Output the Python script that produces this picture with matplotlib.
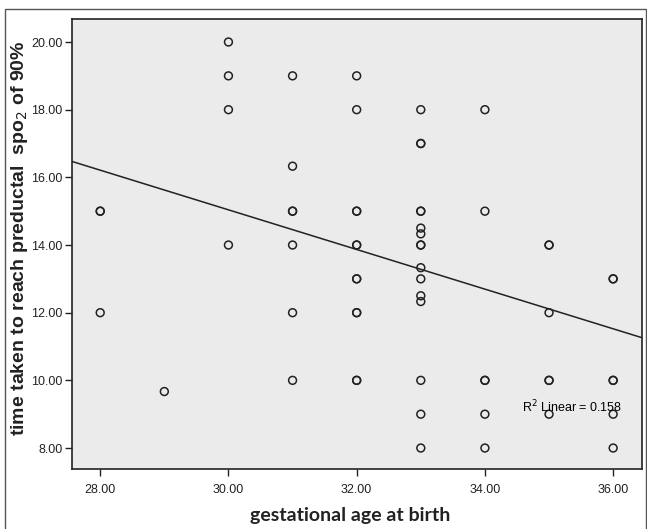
import matplotlib
matplotlib.use("Agg")
import matplotlib.pyplot as plt
from matplotlib.patches import Rectangle
import numpy as np

# gestational age (weeks) and time to reach preductal SpO2 of 90%
# (repeated pairs = overlapping patients, drawn darker in the reference)
gest_age = [28, 28, 28,
            29,
            30, 30, 30, 30,
            31, 31, 31, 31, 31, 31, 31,
            32, 32, 32, 32, 32, 32, 32, 32, 32, 32, 32, 32,
            33, 33, 33, 33, 33, 33, 33, 33, 33, 33, 33, 33, 33, 33, 33, 33,
            34, 34, 34, 34, 34, 34,
            35, 35, 35, 35, 35, 35,
            36, 36, 36, 36, 36, 36]
time_taken = [15, 15, 12,
              9.67,
              20, 19, 18, 14,
              19, 16.33, 15, 15, 14, 12, 10,
              19, 18, 15, 15, 14, 14, 13, 13, 12, 12, 10, 10,
              18, 17, 17, 15, 15, 14.5, 14.33, 14, 14, 13.33, 13, 12.5, 12.33, 10, 9, 8,
              18, 15, 10, 10, 9, 8,
              14, 14, 12, 10, 10, 9,
              13, 13, 10, 10, 9, 8]

fit_slope = -0.586
fit_intercept = 32.62
r2_text = "R$^2$ Linear = 0.158"

x_ticks = [28, 30, 32, 34, 36]
y_ticks = [8, 10, 12, 14, 16, 18, 20]

W, H = 647, 529
fig = plt.figure(figsize=(W / 100, H / 100), dpi=100)
ax = fig.add_axes([72 / W, 1 - 469 / H, (642 - 72) / W, (469 - 19) / H])
ax.set_facecolor("#ebebeb")

xlim = (27.56, 36.45)
ylim = (7.38, 20.68)
ax.set_xlim(*xlim)
ax.set_ylim(*ylim)

ax.scatter(gest_age, time_taken, s=32, facecolors="none", edgecolors="#222222",
           linewidths=1.1, zorder=3)

xs = np.array(xlim)
ax.plot(xs, fit_slope * xs + fit_intercept, color="#222222", lw=1.1, zorder=2)

ax.text(34.58, 9.2, r2_text, fontsize=9, family="Liberation Sans",
        va="center", ha="left", zorder=4)

ax.set_xticks(x_ticks)
ax.set_xticklabels([f"{v:.2f}" for v in x_ticks])
ax.set_yticks(y_ticks)
ax.set_yticklabels([f"{v:.2f}" for v in y_ticks])
for lab in ax.get_xticklabels() + ax.get_yticklabels():
    lab.set_family("Liberation Sans")
    lab.set_fontsize(9)
    lab.set_color("#222222")
ax.tick_params(axis="both", direction="out", length=5, width=1, color="#222222", pad=2)
ax.tick_params(axis="x", pad=6)
for sp in ax.spines.values():
    sp.set_linewidth(1.2)
    sp.set_color("#222222")

fig.text(350 / W, 1 - 515 / H, "gestational age at birth", ha="center", va="center",
         fontsize=14, fontweight="bold", family="Lato", color="#222222")
fig.text(20 / W, 1 - 238 / H, "time taken to reach preductal  spo$_2$ of 90%",
         ha="center", va="center", rotation=90, fontsize=14, fontweight="bold",
         family="Liberation Sans", color="#222222")

# outer frame
fig.patches.append(Rectangle((5 / W, -0.01), (646 - 5) / W, 1 - 9 / H + 0.01,
                             transform=fig.transFigure, fill=False,
                             edgecolor="#555555", lw=1.0))

fig.savefig("out.png", dpi=100, facecolor="white")
